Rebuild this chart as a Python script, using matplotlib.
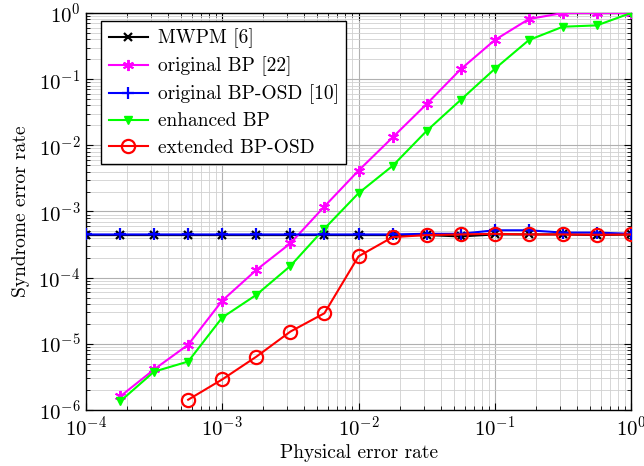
import numpy as np
import matplotlib
matplotlib.use("Agg")
import matplotlib.pyplot as plt
from matplotlib.ticker import LogLocator, NullFormatter

plt.rcParams['font.family'] = 'cmr10'
plt.rcParams['mathtext.fontset'] = 'cm'
plt.rcParams['axes.formatter.use_mathtext'] = True
plt.rcParams['font.size'] = 12

p = [1e-4, 1.78e-4, 3.16e-4, 5.62e-4, 1e-3, 1.78e-3, 3.16e-3, 5.62e-3, 1e-2,
     1.78e-2, 3.16e-2, 5.62e-2, 1e-1, 1.78e-1, 3.16e-1, 5.62e-1, 1.0]

mwpm = [4.4e-4, 4.4e-4, 4.4e-4, 4.4e-4, 4.4e-4, 4.4e-4, 4.4e-4, 4.4e-4, 4.4e-4,
        4.4e-4, 4.4e-4, 4.2e-4, 4.5e-4, 4.5e-4, 4.5e-4, 4.4e-4, 4.5e-4]
bp_orig_x = p[1:]
bp_orig = [1.6e-6, 4.1e-6, 9.7e-6, 4.5e-5, 1.31e-4, 3.3e-4, 1.19e-3, 4.15e-3,
           1.32e-2, 4.2e-2, 0.141, 0.39, 0.81, 1.0, 1.0, 1.0]
bposd_orig = [4.5e-4, 4.5e-4, 4.5e-4, 4.5e-4, 4.5e-4, 4.5e-4, 4.5e-4, 4.5e-4, 4.5e-4,
              4.5e-4, 4.6e-4, 4.6e-4, 5.2e-4, 5.2e-4, 4.8e-4, 4.8e-4, 4.6e-4]
bp_enh_x = p[1:]
bp_enh = [1.35e-6, 3.8e-6, 5.4e-6, 2.5e-5, 5.5e-5, 1.5e-4, 5.5e-4, 1.89e-3,
          4.9e-3, 1.65e-2, 4.85e-2, 0.143, 0.39, 0.62, 0.65, 1.0]
bposd_ext_x = p[3:]
bposd_ext = [1.43e-6, 2.9e-6, 6.4e-6, 1.53e-5, 2.9e-5, 2.1e-4, 4.1e-4, 4.4e-4,
             4.5e-4, 4.6e-4, 4.5e-4, 4.5e-4, 4.45e-4, 4.5e-4]

labels = ["MWPM [6]", "original BP [22]", "original BP-OSD [10]", "enhanced BP", "extended BP-OSD"]

fig = plt.figure(figsize=(6.44, 4.66), dpi=100)
ax = fig.add_axes([86/644, 1 - 410/466, (631-86)/644, (410-13)/466])

lw = 1.5
ax.plot(p, mwpm, color='black', marker='x', ms=6, mew=1.6, lw=lw, label=labels[0], zorder=3)
ax.plot(bp_orig_x, bp_orig, color='magenta', marker=(6, 2, 0), ms=8, mew=1.4, lw=lw, label=labels[1], zorder=3)
ax.plot(p, bposd_orig, color='blue', marker='+', ms=9, mew=1.6, lw=lw, label=labels[2], zorder=4)
ax.plot(bp_enh_x, bp_enh, color='#00ff00', marker='v', ms=6, lw=lw, label=labels[3], zorder=3)
ax.plot(bposd_ext_x, bposd_ext, color='red', marker='o', ms=9.5, mfc='none', mew=1.6, lw=lw, label=labels[4], zorder=5)

ax.set_xscale('log')
ax.set_yscale('log')
ax.set_xlim(1e-4, 1)
ax.set_ylim(1e-6, 1)

ax.xaxis.set_major_locator(LogLocator(base=10, numticks=10))
ax.yaxis.set_major_locator(LogLocator(base=10, numticks=10))
ax.xaxis.set_minor_locator(LogLocator(base=10, subs=np.arange(2, 10), numticks=20))
ax.yaxis.set_minor_locator(LogLocator(base=10, subs=np.arange(2, 10), numticks=20))
ax.xaxis.set_minor_formatter(NullFormatter())
ax.yaxis.set_minor_formatter(NullFormatter())

ax.grid(True, which='major', color='#b0b0b0', lw=0.8)
ax.grid(True, which='minor', color='#d0d0d0', lw=0.6)
ax.set_axisbelow(True)
ax.tick_params(which='both', direction='in', top=True, right=True, labelsize=15)
ax.tick_params(which='major', length=5, pad=4)
ax.tick_params(which='minor', length=3)
for s in ax.spines.values():
    s.set_linewidth(1.0)

ax.set_xlabel("Physical error rate", fontsize=14, labelpad=3)
ax.set_ylabel("Syndrome error rate", fontsize=14, labelpad=6)

leg = ax.legend(loc='upper left', bbox_to_anchor=(0.028, 0.98), fontsize=14, fancybox=False,
                framealpha=1, edgecolor='black', handlelength=2.0, borderpad=0.4,
                labelspacing=0.42, handletextpad=0.5, borderaxespad=0.0)
leg.get_frame().set_linewidth(1.0)

fig.savefig("out.png", dpi=100)
